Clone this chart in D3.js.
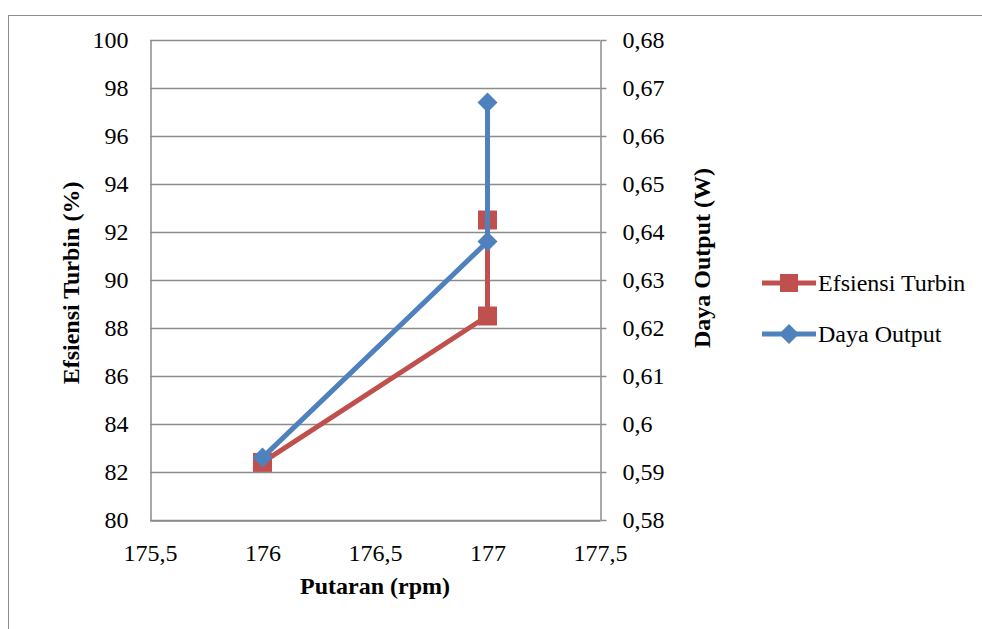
<!DOCTYPE html>
<html>
<head>
<meta charset="utf-8">
<script src="https://cdn.jsdelivr.net/npm/d3@7"></script>
<style>
body { margin: 0; background: #fff; }
svg text { font-family: "Times New Roman", "Liberation Serif", "DejaVu Serif", serif; }
</style>
</head>
<body>
<div id="chart"></div>
<script>
// data
var putaran = [176, 177, 177];
var efisiensi = [82.4, 88.5, 92.5];
var putaranDaya = [176, 177, 177];
var daya = [0.593, 0.638, 0.667];
var xTicks = [175.5, 176, 176.5, 177, 177.5];
var yLeftTicks = [80, 82, 84, 86, 88, 90, 92, 94, 96, 98, 100];
var yRightTicks = [0.58, 0.59, 0.6, 0.61, 0.62, 0.63, 0.64, 0.65, 0.66, 0.67, 0.68];

var W = 982, H = 629;
var pL = 150, pR = 600, pT = 40, pB = 520;
var red = "#c0504d", blue = "#4f81bd", grey = "#8c8c8c";
var serif = "'Times New Roman', 'Liberation Serif', 'DejaVu Serif', serif";

var svg = d3.select("#chart").append("svg")
    .attr("width", W)
    .attr("height", H)
    .attr("font-family", serif);

// outer chart frame
svg.append("rect")
    .attr("x", 8.5).attr("y", 15.5)
    .attr("width", 990).attr("height", 640)
    .attr("fill", "none")
    .attr("stroke", grey)
    .attr("stroke-width", 1);

var x = d3.scaleLinear().domain([175.5, 177.5]).range([pL, pR]);
var yL = d3.scaleLinear().domain([80, 100]).range([pB, pT]);
var yR = d3.scaleLinear().domain([0.58, 0.68]).range([pB, pT]);

var fmt = function(d) { return String(+d.toFixed(2)).replace(".", ","); };

// gridlines
svg.append("g").selectAll("line")
    .data(yLeftTicks)
    .enter().append("line")
    .attr("x1", pL).attr("x2", pR)
    .attr("y1", function(d) { return Math.round(yL(d)) + 0.5; })
    .attr("y2", function(d) { return Math.round(yL(d)) + 0.5; })
    .attr("stroke", grey)
    .attr("stroke-width", 1.5);

function styleAxis(g) {
    g.attr("font-family", serif);
    g.selectAll("path, line").attr("stroke", grey).attr("stroke-width", 1.5);
    g.selectAll("text")
        .attr("fill", "#000")
        .style("font-size", "24px")
        .style("font-family", serif);
}

svg.append("g")
    .attr("transform", "translate(" + (pL + 0.5) + ",0)")
    .call(d3.axisLeft(yL).tickValues(yLeftTicks).tickSize(0).tickPadding(22).tickSizeOuter(0))
    .call(styleAxis);

svg.append("g")
    .attr("transform", "translate(" + (pR + 0.5) + ",0)")
    .call(d3.axisRight(yR).tickValues(yRightTicks).tickFormat(fmt).tickSize(6).tickPadding(16).tickSizeOuter(0))
    .call(styleAxis);

svg.append("g")
    .attr("transform", "translate(0," + (pB + 0.5) + ")")
    .call(d3.axisBottom(x).tickValues(xTicks).tickFormat(fmt).tickSize(0).tickPadding(23).tickSizeOuter(0))
    .call(styleAxis);

// axis titles
svg.append("text")
    .attr("transform", "translate(79,283) rotate(-90)")
    .attr("text-anchor", "middle")
    .style("font-size", "24px").style("font-weight", "bold")
    .text("Efsiensi Turbin (%)");

svg.append("text")
    .attr("transform", "translate(710,258) rotate(-90)")
    .attr("text-anchor", "middle")
    .style("font-size", "24px").style("font-weight", "bold")
    .text("Daya Output (W)");

svg.append("text")
    .attr("x", (pL + pR) / 2)
    .attr("y", 594)
    .attr("text-anchor", "middle")
    .style("font-size", "24px").style("font-weight", "bold")
    .text("Putaran (rpm)");

// red series
var redPts = putaran.map(function(d, i) { return [x(d), yL(efisiensi[i])]; });
svg.append("path")
    .attr("d", d3.line()(redPts))
    .attr("fill", "none")
    .attr("stroke", red)
    .attr("stroke-width", 5)
    .attr("stroke-linejoin", "round");
svg.append("g").selectAll("rect")
    .data(redPts)
    .enter().append("rect")
    .attr("x", function(d) { return d[0] - 9.5; })
    .attr("y", function(d) { return d[1] - 9.5; })
    .attr("width", 19).attr("height", 19)
    .attr("fill", red);

// blue series
var bluePts = putaranDaya.map(function(d, i) { return [x(d), yR(daya[i])]; });
svg.append("path")
    .attr("d", d3.line()(bluePts))
    .attr("fill", "none")
    .attr("stroke", blue)
    .attr("stroke-width", 5)
    .attr("stroke-linejoin", "round");
svg.append("g").selectAll("path.dm")
    .data(bluePts)
    .enter().append("path")
    .attr("class", "dm")
    .attr("transform", function(d) { return "translate(" + d[0] + "," + d[1] + ")"; })
    .attr("d", "M0,-10L10,0L0,10L-10,0Z")
    .attr("fill", blue);

// legend
var legend = [
    { name: "Efsiensi Turbin", color: red, shape: "square", y: 283 },
    { name: "Daya Output", color: blue, shape: "diamond", y: 334 }
];
var lg = svg.append("g").selectAll("g")
    .data(legend)
    .enter().append("g")
    .attr("transform", function(d) { return "translate(762," + d.y + ")"; });
lg.append("line")
    .attr("x1", 0).attr("x2", 54)
    .attr("stroke", function(d) { return d.color; })
    .attr("stroke-width", 5);
lg.append("path")
    .attr("transform", "translate(27,0)")
    .attr("d", function(d) {
        return d.shape === "square" ? "M-9,-9H9V9H-9Z" : "M0,-10L10,0L0,10L-10,0Z";
    })
    .attr("fill", function(d) { return d.color; });
lg.append("text")
    .attr("x", 56)
    .attr("y", 8)
    .style("font-size", "24px")
    .text(function(d) { return d.name; });
</script>
</body>
</html>
